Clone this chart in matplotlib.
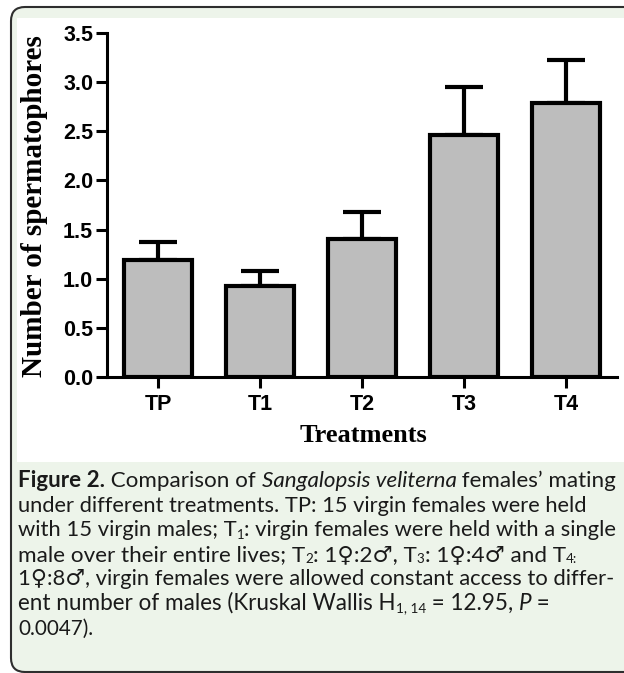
import numpy as np
import matplotlib
matplotlib.use("Agg")
import matplotlib.pyplot as plt
from matplotlib.patches import FancyBboxPatch, Rectangle
from matplotlib.transforms import IdentityTransform

# Data
categories = ['TP', 'T1', 'T2', 'T3', 'T4']
means = [1.19, 0.93, 1.40, 2.46, 2.79]
errors = [0.18, 0.15, 0.28, 0.49, 0.44]
yticks = [0.0, 0.5, 1.0, 1.5, 2.0, 2.5, 3.0, 3.5]

W, H = 624, 673
fig = plt.figure(figsize=(W / 100, H / 100), dpi=100)
fig.patch.set_facecolor('white')

# caption box and white chart panel (pixel coords, y from top)
box = FancyBboxPatch((11, 1), 660, H - 7 - 1, boxstyle="round,pad=0,rounding_size=14",
                     transform=IdentityTransform(), facecolor='#edf4ea',
                     edgecolor='#2e2e2e', linewidth=1.5, zorder=0)
fig.add_artist(box)
panel = Rectangle((17, H - 462), 640, 462 - 18, transform=IdentityTransform(),
                  facecolor='white', edgecolor='none', zorder=0.5)
fig.add_artist(panel)

# Axes
ax = fig.add_axes([107 / W, 1 - 377 / H, (617 - 107) / W, (377 - 33) / H])
ax.set_zorder(2)
ax.set_facecolor('none')
x = np.arange(len(categories))
ax.bar(x, means, width=0.66, color='#bdbdbd', edgecolor='black', linewidth=3, zorder=3)
ax.errorbar(x, means, yerr=[np.zeros(len(errors)), errors], fmt='none', ecolor='black',
            elinewidth=3, capsize=13.5, capthick=3, zorder=2)

ax.set_xlim(-0.5, 4.5)
ax.set_ylim(0, 3.5)
ax.set_yticks(yticks)
ax.set_yticklabels([f"{v:.1f}" for v in yticks])
ax.set_xticks(x)
ax.set_xticklabels(categories)
for s in ['top', 'right']:
    ax.spines[s].set_visible(False)
for s in ['left', 'bottom']:
    ax.spines[s].set_linewidth(2.2)
ax.tick_params(axis='both', length=8, width=2.2, color='black')
ax.tick_params(axis='y', pad=2)
ax.tick_params(axis='x', pad=4)
for lab in ax.get_yticklabels() + ax.get_xticklabels():
    lab.set_fontfamily('Liberation Sans')
    lab.set_fontweight('bold')
    lab.set_fontsize(15.5)

fig.text(35 / W, 1 - 206 / H, 'Number of spermatophores', rotation=90, ha='center', va='center',
         family='Liberation Serif', weight='bold', fontsize=21)
fig.text(363 / W, 1 - 435 / H, 'Treatments', ha='center', va='center',
         family='Liberation Serif', weight='bold', fontsize=19)

# Caption, drawn piece by piece so subscripts and italics sit inline
fam = ['Lato', 'DejaVu Sans']
fs = 16.0
renderer = fig.canvas.get_renderer()


def style(st, size):
    kw = dict(family=fam, fontsize=size)
    if st == 'bold':
        kw['weight'] = 'bold'
    elif st == 'ital':
        kw['style'] = 'italic'
    elif st == 'sub':
        kw['fontsize'] = size * 0.6
    return kw


def width_of(s, kw):
    t1 = fig.text(0, 0, '|' + s + '|', **kw)
    t2 = fig.text(0, 0, '||', **kw)
    w = t1.get_window_extent(renderer).width - t2.get_window_extent(renderer).width
    t1.remove()
    t2.remove()
    return w


caption = [
    [('Figure 2.', 'bold'), (' Comparison of ', 'reg'), ('Sangalopsis veliterna', 'ital'),
     (' females\u2019 mating', 'reg')],
    [('under different treatments. TP: 15 virgin females were held', 'reg')],
    [('with 15 virgin males; T', 'reg'), ('1', 'sub'),
     (': virgin females were held with a single', 'reg')],
    [('male over their entire lives; T', 'reg'), ('2', 'sub'), (': 1\u2640:2\u2642, T', 'reg'),
     ('3', 'sub'), (': 1\u2640:4\u2642 and T', 'reg'), ('4:', 'sub')],
    [('1\u2640:8\u2642, virgin females were allowed constant access to differ-', 'reg')],
    [('ent number of males (Kruskal Wallis H', 'reg'), ('1, 14', 'sub'), (' = 12.95, ', 'reg'),
     ('P', 'ital'), (' =', 'reg')],
    [('0.0047).', 'reg')],
]
# right end of each caption line in the reference
line_ends = [616, 591, 619, 578, 618, 553, 80]

x0 = 18.0
base0 = 487
step = 24.6
for i, line in enumerate(caption):
    natural = sum(width_of(txt, style(st, fs)) for txt, st in line)
    k = min(max((line_ends[i] - x0) / natural, 0.93), 1.07)
    size = fs * k
    xpos = x0
    ybase = base0 + i * step
    for txt, st in line:
        kw = style(st, size)
        dy = 2.5 if st == 'sub' else 0
        fig.text(xpos / W, 1 - (ybase + dy) / H, txt, ha='left', va='baseline',
                 color='#1a1a1a', **kw)
        xpos += width_of(txt, kw)

fig.savefig('out.png', dpi=100, facecolor=fig.get_facecolor())
